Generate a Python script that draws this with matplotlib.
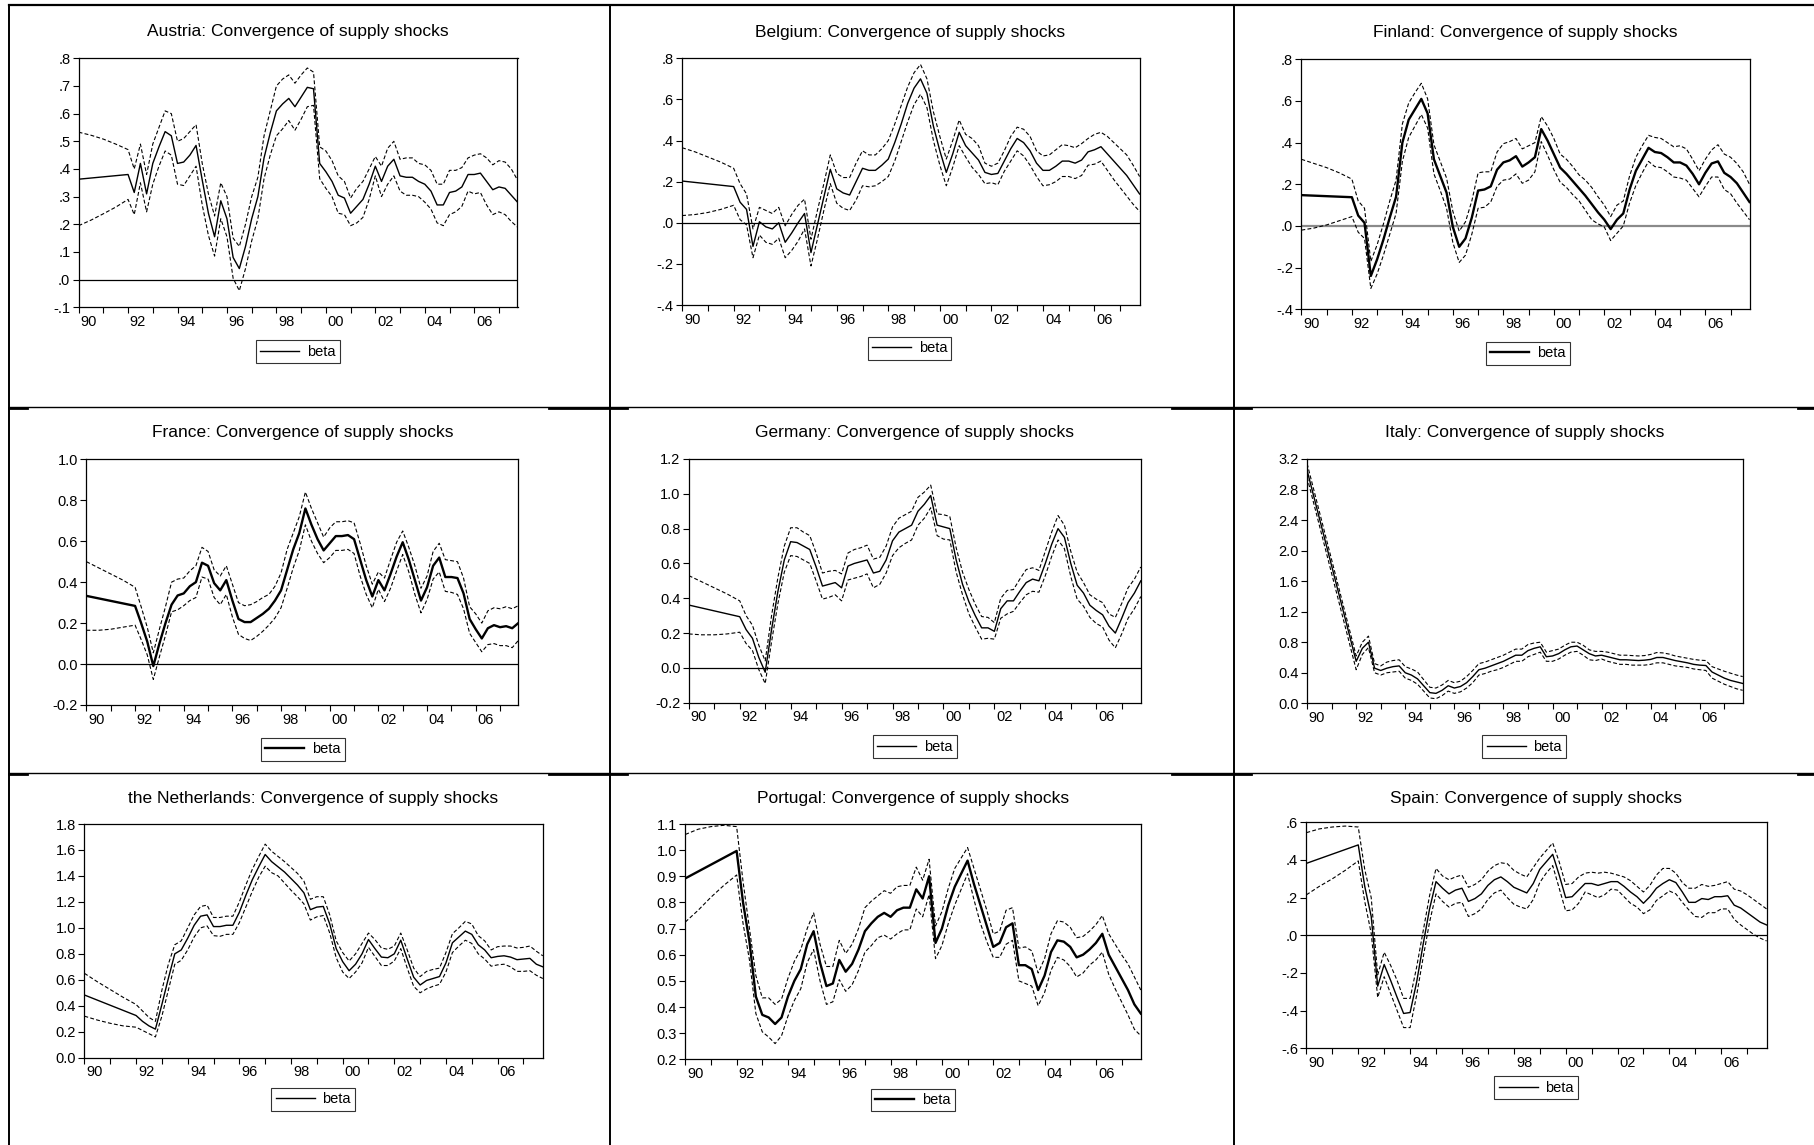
import matplotlib
matplotlib.use("Agg")
import matplotlib.pyplot as plt
from matplotlib.lines import Line2D
import pandas as pd

plt.rcParams['font.family'] = ['Liberation Sans', 'DejaVu Sans']

W, H = 1814, 1145

# ---------------- data ----------------
MAIN_PERIODS = [str(p) for p in pd.period_range("1992Q1", "2007Q4", freq="Q")]
START_PERIOD = "1990Q1"
EARLY_BAND_PERIODS = ["1990Q1", "1990Q3", "1991Q1", "1991Q3"]
XTICK_YEARS = [1990, 1992, 1994, 1996, 1998, 2000, 2002, 2004, 2006]
XTICK_LABELS = ["90", "92", "94", "96", "98", "00", "02", "04", "06"]
LEGEND_LABEL = "beta"

# Austria
austria_beta0 = 0.363
austria_beta = [0.38, 0.315, 0.42, 0.31, 0.42, 0.48, 0.535, 0.52,
                0.42, 0.425, 0.45, 0.485, 0.36, 0.24, 0.155, 0.285,
                0.22, 0.08, 0.04, 0.12, 0.22, 0.30, 0.44, 0.53,
                0.61, 0.635, 0.655, 0.625, 0.66, 0.695, 0.69, 0.42,
                0.39, 0.355, 0.305, 0.295, 0.24, 0.265, 0.29, 0.345,
                0.41, 0.355, 0.41, 0.435, 0.375, 0.37, 0.37, 0.355,
                0.345, 0.32, 0.27, 0.27, 0.315, 0.32, 0.335, 0.38,
                0.38, 0.385, 0.355, 0.325, 0.335, 0.33, 0.305, 0.28]
austria_upper_early = [0.533, 0.522, 0.508, 0.49]
austria_lower_early = [0.195, 0.215, 0.238, 0.262]
austria_upper = [0.47, 0.40, 0.49, 0.38, 0.49, 0.55, 0.61, 0.60,
                 0.50, 0.51, 0.535, 0.56, 0.42, 0.31, 0.23, 0.35,
                 0.30, 0.15, 0.12, 0.20, 0.30, 0.37, 0.52, 0.61,
                 0.70, 0.725, 0.74, 0.71, 0.74, 0.765, 0.75, 0.48,
                 0.465, 0.43, 0.375, 0.355, 0.295, 0.33, 0.355, 0.40,
                 0.445, 0.41, 0.475, 0.50, 0.435, 0.44, 0.44, 0.42,
                 0.415, 0.395, 0.345, 0.345, 0.395, 0.395, 0.405, 0.44,
                 0.45, 0.455, 0.44, 0.415, 0.43, 0.425, 0.40, 0.36]
austria_lower = [0.29, 0.235, 0.35, 0.245, 0.345, 0.41, 0.465, 0.45,
                 0.345, 0.34, 0.375, 0.41, 0.27, 0.16, 0.085, 0.22,
                 0.155, 0.005, -0.04, 0.04, 0.14, 0.22, 0.365, 0.45,
                 0.52, 0.545, 0.575, 0.54, 0.58, 0.625, 0.63, 0.365,
                 0.33, 0.30, 0.24, 0.235, 0.195, 0.205, 0.225, 0.29,
                 0.375, 0.30, 0.345, 0.375, 0.32, 0.305, 0.305, 0.30,
                 0.28, 0.255, 0.205, 0.195, 0.235, 0.245, 0.265, 0.32,
                 0.31, 0.315, 0.27, 0.235, 0.245, 0.235, 0.21, 0.19]

# Belgium
belgium_beta0 = 0.203
belgium_beta = [0.176, 0.10, 0.065, -0.115, 0.005, -0.02, -0.03, 0.0,
                -0.095, -0.05, 0.0, 0.045, -0.145, -0.01, 0.125, 0.26,
                0.165, 0.145, 0.135, 0.20, 0.265, 0.255, 0.255, 0.28,
                0.31, 0.39, 0.48, 0.58, 0.655, 0.70, 0.63, 0.47,
                0.35, 0.245, 0.335, 0.44, 0.375, 0.34, 0.305, 0.245,
                0.235, 0.24, 0.30, 0.36, 0.41, 0.39, 0.35, 0.29,
                0.255, 0.255, 0.275, 0.30, 0.30, 0.29, 0.305, 0.345,
                0.355, 0.37, 0.335, 0.30, 0.265, 0.23, 0.185, 0.14]
belgium_upper_early = [0.365, 0.345, 0.32, 0.295]
belgium_lower_early = [0.035, 0.04, 0.05, 0.065]
belgium_upper = [0.265, 0.19, 0.14, -0.03, 0.075, 0.06, 0.045, 0.075,
                 -0.015, 0.04, 0.085, 0.115, -0.08, 0.06, 0.19, 0.33,
                 0.24, 0.22, 0.22, 0.29, 0.35, 0.33, 0.33, 0.36,
                 0.40, 0.48, 0.57, 0.66, 0.73, 0.77, 0.70, 0.54,
                 0.42, 0.31, 0.40, 0.50, 0.43, 0.41, 0.375, 0.29,
                 0.275, 0.29, 0.35, 0.42, 0.465, 0.455, 0.42, 0.35,
                 0.325, 0.33, 0.355, 0.38, 0.375, 0.365, 0.385, 0.41,
                 0.43, 0.44, 0.42, 0.39, 0.36, 0.33, 0.28, 0.225]
belgium_lower = [0.085, 0.015, -0.01, -0.17, -0.06, -0.095, -0.105, -0.075,
                 -0.17, -0.135, -0.09, -0.03, -0.21, -0.08, 0.06, 0.19,
                 0.095, 0.07, 0.06, 0.11, 0.18, 0.175, 0.18, 0.20,
                 0.225, 0.30, 0.395, 0.49, 0.575, 0.625, 0.56, 0.40,
                 0.28, 0.18, 0.27, 0.375, 0.32, 0.27, 0.235, 0.19,
                 0.195, 0.185, 0.25, 0.30, 0.35, 0.325, 0.28, 0.225,
                 0.18, 0.185, 0.20, 0.225, 0.225, 0.215, 0.23, 0.28,
                 0.285, 0.30, 0.255, 0.21, 0.17, 0.13, 0.09, 0.055]

# Finland
finland_beta0 = 0.148
finland_beta = [0.138, 0.05, 0.015, -0.24, -0.16, -0.065, 0.04, 0.14,
                0.40, 0.51, 0.56, 0.61, 0.54, 0.32, 0.24, 0.16,
                -0.005, -0.10, -0.06, 0.04, 0.17, 0.175, 0.19, 0.27,
                0.305, 0.315, 0.335, 0.285, 0.305, 0.33, 0.465, 0.41,
                0.345, 0.28, 0.25, 0.215, 0.18, 0.145, 0.105, 0.065,
                0.03, -0.015, 0.03, 0.06, 0.175, 0.265, 0.32, 0.375,
                0.355, 0.35, 0.33, 0.305, 0.305, 0.29, 0.25, 0.20,
                0.255, 0.30, 0.31, 0.255, 0.235, 0.205, 0.16, 0.115]
finland_upper_early = [0.32, 0.30, 0.28, 0.255]
finland_lower_early = [-0.02, -0.01, 0.005, 0.025]
finland_upper = [0.225, 0.12, 0.085, -0.17, -0.09, 0.01, 0.12, 0.22,
                 0.49, 0.59, 0.64, 0.685, 0.61, 0.39, 0.31, 0.23,
                 0.07, -0.025, 0.02, 0.12, 0.255, 0.26, 0.26, 0.355,
                 0.395, 0.405, 0.42, 0.37, 0.385, 0.40, 0.525, 0.48,
                 0.42, 0.345, 0.32, 0.285, 0.245, 0.22, 0.185, 0.14,
                 0.10, 0.045, 0.10, 0.12, 0.24, 0.33, 0.385, 0.435,
                 0.425, 0.42, 0.40, 0.38, 0.385, 0.37, 0.32, 0.265,
                 0.32, 0.365, 0.39, 0.345, 0.33, 0.30, 0.26, 0.20]
finland_lower = [0.045, -0.03, -0.06, -0.30, -0.23, -0.14, -0.04, 0.06,
                 0.31, 0.425, 0.48, 0.535, 0.47, 0.25, 0.17, 0.085,
                 -0.08, -0.175, -0.14, -0.04, 0.085, 0.09, 0.115, 0.19,
                 0.22, 0.225, 0.25, 0.205, 0.22, 0.26, 0.405, 0.34,
                 0.27, 0.21, 0.185, 0.15, 0.12, 0.075, 0.03, 0.01,
                 -0.005, -0.07, -0.035, 0.0, 0.11, 0.195, 0.255, 0.31,
                 0.285, 0.28, 0.26, 0.235, 0.23, 0.22, 0.18, 0.14,
                 0.19, 0.235, 0.235, 0.175, 0.155, 0.11, 0.07, 0.03]

# France
france_beta0 = 0.333
france_beta = [0.284, 0.20, 0.11, -0.01, 0.10, 0.20, 0.29, 0.335,
               0.345, 0.38, 0.40, 0.495, 0.48, 0.395, 0.36, 0.41,
               0.31, 0.22, 0.205, 0.205, 0.225, 0.245, 0.27, 0.31,
               0.36, 0.46, 0.56, 0.64, 0.76, 0.68, 0.61, 0.555,
               0.59, 0.625, 0.625, 0.63, 0.61, 0.51, 0.41, 0.33,
               0.41, 0.36, 0.44, 0.525, 0.595, 0.51, 0.41, 0.31,
               0.375, 0.48, 0.52, 0.425, 0.425, 0.42, 0.345, 0.22,
               0.17, 0.125, 0.175, 0.19, 0.18, 0.185, 0.175, 0.20]
france_upper_early = [0.50, 0.47, 0.44, 0.41]
france_lower_early = [0.165, 0.165, 0.17, 0.18]
france_upper = [0.375, 0.28, 0.18, 0.055, 0.17, 0.28, 0.40, 0.415,
                0.42, 0.455, 0.48, 0.57, 0.55, 0.46, 0.43, 0.48,
                0.39, 0.30, 0.285, 0.29, 0.305, 0.325, 0.34, 0.38,
                0.445, 0.56, 0.64, 0.72, 0.84, 0.76, 0.69, 0.62,
                0.665, 0.695, 0.695, 0.70, 0.69, 0.59, 0.48, 0.39,
                0.45, 0.42, 0.51, 0.595, 0.65, 0.57, 0.48, 0.37,
                0.43, 0.55, 0.59, 0.51, 0.505, 0.50, 0.42, 0.28,
                0.245, 0.20, 0.26, 0.275, 0.27, 0.28, 0.27, 0.285]
france_lower = [0.19, 0.12, 0.045, -0.075, 0.035, 0.14, 0.255, 0.265,
                0.285, 0.31, 0.325, 0.425, 0.415, 0.325, 0.29, 0.34,
                0.23, 0.145, 0.125, 0.115, 0.135, 0.16, 0.19, 0.225,
                0.275, 0.37, 0.47, 0.555, 0.68, 0.60, 0.54, 0.495,
                0.52, 0.555, 0.555, 0.56, 0.54, 0.43, 0.34, 0.275,
                0.365, 0.305, 0.37, 0.455, 0.535, 0.45, 0.34, 0.25,
                0.315, 0.415, 0.45, 0.355, 0.35, 0.34, 0.27, 0.15,
                0.105, 0.06, 0.095, 0.10, 0.09, 0.09, 0.08, 0.115]

# Germany
germany_beta0 = 0.361
germany_beta = [0.294, 0.22, 0.17, 0.06, -0.025, 0.22, 0.44, 0.62,
                0.725, 0.72, 0.70, 0.68, 0.58, 0.47, 0.48, 0.49,
                0.46, 0.585, 0.60, 0.61, 0.62, 0.545, 0.555, 0.62,
                0.73, 0.78, 0.80, 0.82, 0.90, 0.94, 0.99, 0.82,
                0.81, 0.80, 0.62, 0.48, 0.38, 0.30, 0.23, 0.23,
                0.21, 0.34, 0.385, 0.385, 0.44, 0.49, 0.51, 0.50,
                0.60, 0.71, 0.80, 0.75, 0.60, 0.475, 0.43, 0.36,
                0.33, 0.305, 0.24, 0.20, 0.285, 0.375, 0.43, 0.50]
germany_upper_early = [0.53, 0.495, 0.46, 0.425]
germany_lower_early = [0.195, 0.19, 0.19, 0.195]
germany_upper = [0.385, 0.30, 0.245, 0.13, 0.04, 0.30, 0.52, 0.70,
                 0.805, 0.805, 0.78, 0.76, 0.66, 0.545, 0.555, 0.56,
                 0.54, 0.66, 0.68, 0.69, 0.705, 0.625, 0.635, 0.70,
                 0.81, 0.86, 0.88, 0.90, 0.98, 1.01, 1.05, 0.885,
                 0.88, 0.87, 0.69, 0.55, 0.45, 0.365, 0.295, 0.29,
                 0.26, 0.40, 0.445, 0.45, 0.51, 0.565, 0.575, 0.56,
                 0.67, 0.78, 0.875, 0.82, 0.67, 0.55, 0.49, 0.42,
                 0.395, 0.375, 0.31, 0.29, 0.37, 0.46, 0.51, 0.58]
germany_lower = [0.205, 0.14, 0.10, -0.01, -0.09, 0.15, 0.37, 0.55,
                 0.645, 0.64, 0.62, 0.60, 0.50, 0.395, 0.405, 0.42,
                 0.385, 0.505, 0.515, 0.525, 0.54, 0.46, 0.48, 0.545,
                 0.645, 0.69, 0.715, 0.735, 0.82, 0.86, 0.92, 0.76,
                 0.74, 0.735, 0.55, 0.42, 0.31, 0.235, 0.165, 0.17,
                 0.165, 0.285, 0.31, 0.325, 0.375, 0.42, 0.44, 0.435,
                 0.53, 0.64, 0.735, 0.685, 0.525, 0.395, 0.355, 0.29,
                 0.255, 0.235, 0.16, 0.115, 0.195, 0.285, 0.34, 0.41]

# Italy
italy_beta0 = 3.05
italy_beta = [0.55, 0.72, 0.80, 0.46, 0.43, 0.46, 0.48, 0.49,
              0.40, 0.37, 0.32, 0.23, 0.14, 0.13, 0.17, 0.23,
              0.20, 0.22, 0.27, 0.35, 0.44, 0.46, 0.49, 0.52,
              0.55, 0.59, 0.63, 0.63, 0.69, 0.72, 0.74, 0.61,
              0.62, 0.65, 0.70, 0.74, 0.75, 0.70, 0.65, 0.62,
              0.63, 0.61, 0.59, 0.57, 0.57, 0.565, 0.56, 0.565,
              0.575, 0.60, 0.60, 0.58, 0.56, 0.545, 0.53, 0.51,
              0.50, 0.495, 0.41, 0.37, 0.33, 0.30, 0.28, 0.26]
italy_upper_early = [3.14]
italy_lower_early = [2.96]
italy_upper = [0.62, 0.80, 0.88, 0.52, 0.49, 0.54, 0.56, 0.57,
               0.48, 0.45, 0.41, 0.31, 0.21, 0.20, 0.24, 0.30,
               0.27, 0.29, 0.35, 0.43, 0.52, 0.54, 0.57, 0.60,
               0.63, 0.67, 0.71, 0.71, 0.77, 0.79, 0.80, 0.67,
               0.69, 0.71, 0.76, 0.80, 0.80, 0.76, 0.70, 0.68,
               0.68, 0.67, 0.65, 0.63, 0.63, 0.625, 0.62, 0.625,
               0.64, 0.665, 0.66, 0.645, 0.62, 0.605, 0.59, 0.575,
               0.565, 0.56, 0.48, 0.45, 0.42, 0.395, 0.37, 0.35]
italy_lower = [0.44, 0.64, 0.73, 0.40, 0.37, 0.40, 0.41, 0.42,
               0.33, 0.30, 0.25, 0.16, 0.07, 0.06, 0.10, 0.16,
               0.13, 0.15, 0.20, 0.27, 0.37, 0.39, 0.42, 0.44,
               0.47, 0.51, 0.55, 0.55, 0.61, 0.64, 0.67, 0.55,
               0.55, 0.58, 0.63, 0.67, 0.68, 0.63, 0.57, 0.56,
               0.58, 0.55, 0.53, 0.51, 0.51, 0.50, 0.50, 0.50,
               0.51, 0.53, 0.53, 0.51, 0.49, 0.48, 0.47, 0.45,
               0.44, 0.43, 0.33, 0.29, 0.25, 0.22, 0.19, 0.17]

# the Netherlands
netherlands_beta0 = 0.483
netherlands_beta = [0.325, 0.28, 0.245, 0.22, 0.41, 0.61, 0.80, 0.83,
                    0.92, 1.02, 1.09, 1.10, 1.01, 1.01, 1.02, 1.02,
                    1.12, 1.25, 1.37, 1.47, 1.565, 1.51, 1.47, 1.43,
                    1.38, 1.33, 1.27, 1.14, 1.16, 1.165, 1.03, 0.84,
                    0.74, 0.67, 0.72, 0.80, 0.91, 0.84, 0.775, 0.77,
                    0.80, 0.905, 0.76, 0.62, 0.56, 0.595, 0.61, 0.625,
                    0.73, 0.885, 0.93, 0.975, 0.95, 0.87, 0.83, 0.77,
                    0.78, 0.785, 0.775, 0.755, 0.76, 0.765, 0.72, 0.70]
netherlands_upper_early = [0.65, 0.585, 0.525, 0.465]
netherlands_lower_early = [0.32, 0.29, 0.265, 0.245]
netherlands_upper = [0.41, 0.36, 0.31, 0.28, 0.52, 0.72, 0.87, 0.90,
                     1.00, 1.10, 1.165, 1.175, 1.08, 1.08, 1.09, 1.09,
                     1.20, 1.33, 1.45, 1.55, 1.645, 1.59, 1.55, 1.51,
                     1.465, 1.42, 1.36, 1.22, 1.24, 1.24, 1.10, 0.90,
                     0.81, 0.745, 0.80, 0.88, 0.96, 0.91, 0.845, 0.835,
                     0.86, 0.96, 0.83, 0.69, 0.625, 0.665, 0.68, 0.69,
                     0.81, 0.955, 1.00, 1.05, 1.03, 0.94, 0.90, 0.83,
                     0.855, 0.86, 0.86, 0.845, 0.85, 0.86, 0.82, 0.785]
netherlands_lower = [0.235, 0.21, 0.185, 0.16, 0.32, 0.52, 0.72, 0.75,
                     0.83, 0.93, 1.00, 1.015, 0.94, 0.935, 0.95, 0.95,
                     1.04, 1.16, 1.28, 1.39, 1.475, 1.425, 1.40, 1.345,
                     1.29, 1.24, 1.185, 1.06, 1.085, 1.095, 0.96, 0.77,
                     0.66, 0.61, 0.66, 0.73, 0.85, 0.78, 0.71, 0.71,
                     0.745, 0.84, 0.69, 0.55, 0.50, 0.53, 0.55, 0.565,
                     0.66, 0.81, 0.86, 0.905, 0.88, 0.80, 0.76, 0.705,
                     0.715, 0.72, 0.70, 0.665, 0.665, 0.67, 0.635, 0.61]

# Portugal
portugal_beta0 = 0.892
portugal_beta = [0.997, 0.80, 0.65, 0.44, 0.37, 0.36, 0.335, 0.36,
                 0.44, 0.50, 0.545, 0.64, 0.69, 0.57, 0.48, 0.49,
                 0.58, 0.535, 0.565, 0.62, 0.69, 0.72, 0.745, 0.76,
                 0.745, 0.77, 0.78, 0.78, 0.85, 0.815, 0.90, 0.645,
                 0.70, 0.79, 0.86, 0.91, 0.96, 0.87, 0.79, 0.71,
                 0.63, 0.645, 0.705, 0.72, 0.56, 0.56, 0.545, 0.465,
                 0.52, 0.61, 0.655, 0.65, 0.63, 0.59, 0.60, 0.62,
                 0.645, 0.68, 0.60, 0.555, 0.51, 0.465, 0.41, 0.375]
portugal_upper_early = [1.06, 1.08, 1.09, 1.095]
portugal_lower_early = [0.725, 0.77, 0.82, 0.865]
portugal_upper = [1.09, 0.88, 0.70, 0.52, 0.435, 0.435, 0.41, 0.43,
                  0.51, 0.575, 0.62, 0.70, 0.76, 0.64, 0.555, 0.555,
                  0.655, 0.605, 0.64, 0.70, 0.78, 0.805, 0.825, 0.845,
                  0.835, 0.86, 0.865, 0.865, 0.935, 0.885, 0.965, 0.71,
                  0.765, 0.855, 0.93, 0.97, 1.01, 0.93, 0.85, 0.77,
                  0.68, 0.69, 0.77, 0.78, 0.625, 0.63, 0.615, 0.53,
                  0.585, 0.68, 0.73, 0.725, 0.705, 0.665, 0.67, 0.69,
                  0.715, 0.75, 0.68, 0.64, 0.60, 0.565, 0.515, 0.465]
portugal_lower = [0.905, 0.72, 0.58, 0.375, 0.305, 0.285, 0.26, 0.29,
                  0.365, 0.425, 0.47, 0.57, 0.62, 0.50, 0.41, 0.42,
                  0.505, 0.46, 0.485, 0.54, 0.61, 0.635, 0.665, 0.675,
                  0.66, 0.68, 0.695, 0.695, 0.775, 0.745, 0.83, 0.585,
                  0.635, 0.72, 0.79, 0.85, 0.91, 0.81, 0.72, 0.65,
                  0.59, 0.59, 0.64, 0.655, 0.50, 0.49, 0.48, 0.405,
                  0.455, 0.54, 0.59, 0.58, 0.555, 0.515, 0.53, 0.56,
                  0.58, 0.61, 0.525, 0.47, 0.42, 0.37, 0.315, 0.29]

# Spain
spain_beta0 = 0.382
spain_beta = [0.48, 0.26, 0.10, -0.27, -0.155, -0.24, -0.33, -0.415,
              -0.41, -0.25, -0.05, 0.14, 0.285, 0.25, 0.22, 0.24,
              0.25, 0.18, 0.195, 0.22, 0.265, 0.295, 0.31, 0.285,
              0.255, 0.24, 0.225, 0.275, 0.35, 0.39, 0.43, 0.32,
              0.20, 0.205, 0.24, 0.275, 0.275, 0.265, 0.275, 0.285,
              0.285, 0.26, 0.23, 0.205, 0.17, 0.205, 0.25, 0.275,
              0.295, 0.28, 0.23, 0.175, 0.175, 0.195, 0.19, 0.205,
              0.205, 0.21, 0.16, 0.145, 0.12, 0.095, 0.07, 0.055]
spain_upper_early = [0.545, 0.565, 0.575, 0.58]
spain_lower_early = [0.215, 0.26, 0.30, 0.345]
spain_upper = [0.575, 0.35, 0.20, -0.21, -0.09, -0.16, -0.24, -0.335,
               -0.335, -0.17, 0.02, 0.21, 0.355, 0.315, 0.295, 0.31,
               0.32, 0.255, 0.27, 0.295, 0.34, 0.37, 0.385, 0.38,
               0.345, 0.325, 0.31, 0.36, 0.41, 0.45, 0.49, 0.39,
               0.27, 0.275, 0.31, 0.33, 0.335, 0.33, 0.335, 0.33,
               0.32, 0.31, 0.29, 0.26, 0.23, 0.265, 0.32, 0.355,
               0.355, 0.33, 0.28, 0.25, 0.25, 0.27, 0.26, 0.265,
               0.275, 0.285, 0.245, 0.235, 0.215, 0.19, 0.165, 0.14]
spain_lower = [0.395, 0.18, 0.01, -0.33, -0.22, -0.31, -0.40, -0.49,
               -0.49, -0.32, -0.12, 0.07, 0.22, 0.18, 0.15, 0.17,
               0.175, 0.10, 0.115, 0.14, 0.19, 0.225, 0.24, 0.20,
               0.165, 0.15, 0.14, 0.19, 0.28, 0.33, 0.37, 0.25,
               0.13, 0.135, 0.17, 0.23, 0.215, 0.20, 0.215, 0.245,
               0.24, 0.205, 0.17, 0.15, 0.115, 0.135, 0.185, 0.21,
               0.235, 0.22, 0.175, 0.135, 0.10, 0.095, 0.12, 0.12,
               0.14, 0.14, 0.085, 0.055, 0.03, 0.005, -0.015, -0.03]

# y-axis tick values per panel
ticks_austria = [-0.1, 0.0, 0.1, 0.2, 0.3, 0.4, 0.5, 0.6, 0.7, 0.8]
ticks_belgium = [-0.4, -0.2, 0.0, 0.2, 0.4, 0.6, 0.8]
ticks_finland = [-0.4, -0.2, 0.0, 0.2, 0.4, 0.6, 0.8]
ticks_france = [-0.2, 0.0, 0.2, 0.4, 0.6, 0.8, 1.0]
ticks_germany = [-0.2, 0.0, 0.2, 0.4, 0.6, 0.8, 1.0, 1.2]
ticks_italy = [0.0, 0.4, 0.8, 1.2, 1.6, 2.0, 2.4, 2.8, 3.2]
ticks_netherlands = [0.0, 0.2, 0.4, 0.6, 0.8, 1.0, 1.2, 1.4, 1.6, 1.8]
ticks_portugal = [0.2, 0.3, 0.4, 0.5, 0.6, 0.7, 0.8, 0.9, 1.0, 1.1]
ticks_spain = [-0.6, -0.4, -0.2, 0.0, 0.2, 0.4, 0.6]


def to_year(p):
    per = pd.Period(p, freq="Q")
    return per.year + (per.quarter - 1) / 4.0


main_x = [to_year(p) for p in MAIN_PERIODS]

# name, beta0, beta, up_early, lo_early, up, lo, yticks
panels_data = [
    ("Austria", austria_beta0, austria_beta, austria_upper_early, austria_lower_early, austria_upper, austria_lower, ticks_austria),
    ("Belgium", belgium_beta0, belgium_beta, belgium_upper_early, belgium_lower_early, belgium_upper, belgium_lower, ticks_belgium),
    ("Finland", finland_beta0, finland_beta, finland_upper_early, finland_lower_early, finland_upper, finland_lower, ticks_finland),
    ("France", france_beta0, france_beta, france_upper_early, france_lower_early, france_upper, france_lower, ticks_france),
    ("Germany", germany_beta0, germany_beta, germany_upper_early, germany_lower_early, germany_upper, germany_lower, ticks_germany),
    ("Italy", italy_beta0, italy_beta, italy_upper_early, italy_lower_early, italy_upper, italy_lower, ticks_italy),
    ("the Netherlands", netherlands_beta0, netherlands_beta, netherlands_upper_early, netherlands_lower_early, netherlands_upper, netherlands_lower, ticks_netherlands),
    ("Portugal", portugal_beta0, portugal_beta, portugal_upper_early, portugal_lower_early, portugal_upper, portugal_lower, ticks_portugal),
    ("Spain", spain_beta0, spain_beta, spain_upper_early, spain_lower_early, spain_upper, spain_lower, ticks_spain),
]

# ---------------- layout / style (pixels) ----------------
# axes rect (left, right, top, bottom), title (x, y), legend (x, y)
layout = {
    "Austria":         ((78.6, 517.5, 58.3, 307.3), (297.7, 31.7), (297.7, 351.7)),
    "Belgium":         ((682.1, 1139.6, 58.3, 305.0), (910.0, 32.3), (909.5, 348.3)),
    "Finland":         ((1301.4, 1749.5, 59.3, 309.3), (1525.0, 32.3), (1527.6, 353.3)),
    "France":          ((86.4, 518.3, 459.3, 705.0), (302.5, 432.3), (302.7, 749.3)),
    "Germany":         ((688.8, 1140.8, 459.0, 702.7), (915.0, 432.3), (914.6, 746.7)),
    "Italy":           ((1307.1, 1742.7, 459.0, 703.3), (1525.0, 432.3), (1524.2, 746.7)),
    "the Netherlands": ((84.4, 542.8, 824.0, 1057.7), (313.4, 799.0), (313.2, 1099.3)),
    "Portugal":        ((685.3, 1140.8, 824.0, 1059.3), (912.8, 799.0), (912.6, 1100.0)),
    "Spain":           ((1306.4, 1766.6, 822.3, 1048.3), (1536.3, 798.3), (1536.3, 1087.7)),
}
short_labels = {"Austria", "Belgium", "Finland", "Spain"}
bold_beta = {"Finland", "France", "Portugal"}
zero_line = {"Austria": "black", "Belgium": "black", "Finland": "#8a8a8a",
             "France": "black", "Germany": "black", "Spain": "black"}


def fmt_tick(v, short):
    s = f"{v:.1f}"
    if short:
        s = s.replace("0.", ".")
    return s


fig = plt.figure(figsize=(W / 100, H / 100), dpi=100)
fig.patch.set_facecolor("white")

for name, b0, beta, up_e, lo_e, up, lo, yt in panels_data:
    assert len(beta) == 64 and len(up) == 64 and len(lo) == 64, name
    (L, R, T, B), (tx, ty), (lx, ly) = layout[name]
    ax = fig.add_axes([L / W, 1 - B / H, (R - L) / W, (B - T) / H])
    band_x = [to_year(p) for p in EARLY_BAND_PERIODS[:len(up_e)]] + main_x
    dash = (0, (3.5, 2.0))
    ax.plot(band_x, up_e + up, color="black", lw=0.8, ls=dash, zorder=2)
    ax.plot(band_x, lo_e + lo, color="black", lw=0.8, ls=dash, zorder=2)
    if name in zero_line:
        zc = zero_line[name]
        ax.axhline(0.0, color=zc, lw=1.6 if zc != "black" else 0.9, zorder=1)
    lw_beta = 1.7 if name in bold_beta else 1.0
    line, = ax.plot([to_year(START_PERIOD)] + main_x, [b0] + beta,
                    color="black", lw=lw_beta, zorder=3)

    ax.set_xlim(1990.0, 2007.75)
    ax.set_ylim(yt[0], yt[-1])
    ax.set_yticks(yt)
    ax.set_yticklabels([fmt_tick(v, name in short_labels) for v in yt])
    ax.set_xticks([y + 0.4 for y in XTICK_YEARS])
    ax.set_xticklabels(XTICK_LABELS)
    ax.set_xticks(list(range(1990, 2008)), minor=True)
    ax.tick_params(axis="y", direction="out", length=4, width=0.8,
                   labelsize=10.5, pad=2, colors="black")
    ax.tick_params(axis="x", which="major", length=0, pad=5.5, labelsize=10.5)
    ax.tick_params(axis="x", which="minor", direction="out", length=4, width=0.8)
    for sp in ax.spines.values():
        sp.set_linewidth(0.9)
        sp.set_color("black")

    fig.text(tx / W, 1 - ty / H, f"{name}: Convergence of supply shocks",
             ha="center", va="center", fontsize=12.5)
    leg = ax.legend(handles=[line], labels=[LEGEND_LABEL], loc="center",
                    bbox_to_anchor=(lx / W, 1 - ly / H),
                    bbox_transform=fig.transFigure, frameon=True,
                    fancybox=False, edgecolor="black", fontsize=10.5,
                    handlelength=2.7, handletextpad=0.5, borderpad=0.3,
                    borderaxespad=0.0)
    leg.get_frame().set_linewidth(0.8)


# ---------------- table-like panel borders ----------------
def hline(y, x0, x1, lw):
    fig.add_artist(Line2D([x0 / W, x1 / W], [1 - y / H, 1 - y / H],
                          transform=fig.transFigure, color="black", lw=lw))


def vline(x, y0, y1, lw):
    fig.add_artist(Line2D([x / W, x / W], [1 - y0 / H, 1 - y1 / H],
                          transform=fig.transFigure, color="black", lw=lw))


hline(5, 9, W, 1.6)
for yy in (407, 773):
    hline(yy, 9, W, 1.0)
    for a, b in ((9, 27), (549, 627), (1172, 1251), (1798, W)):
        hline(yy + 1, a, b, 2.0)
for xx in (9, 610, 1234):
    vline(xx, 5, H, 1.4)

fig.savefig("out.png", dpi=100, facecolor="white")
